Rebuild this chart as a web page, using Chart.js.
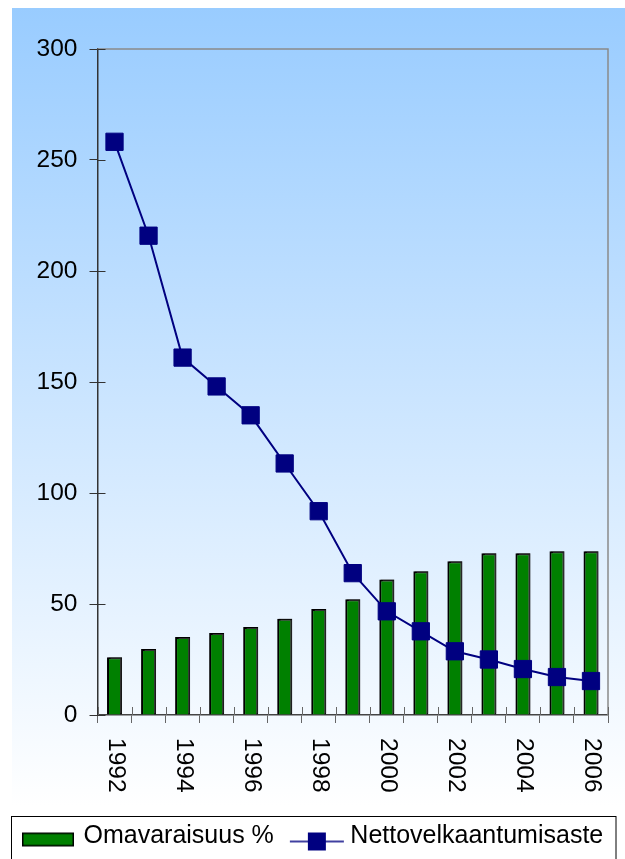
<!DOCTYPE html>
<html>
<head>
<meta charset="utf-8">
<script src="https://cdn.jsdelivr.net/npm/chart.js@4.4.1/dist/chart.umd.min.js"></script>
<style>
html,body{margin:0;padding:0;background:#ffffff;}
#wrap{width:625px;height:859px;position:relative;}
</style>
</head>
<body>
<div id="wrap"><canvas id="c"></canvas></div>
<script>
// ---- data ----
const years = ['1992','1993','1994','1995','1996','1997','1998','1999','2000','2001','2002','2003','2004','2005','2006'];
const omavaraisuus = [26.0, 29.7, 35.1, 36.9, 39.6, 43.3, 47.7, 52.1, 61.0, 64.8, 69.3, 72.9, 72.9, 73.8, 73.8];
const nettovelkaantumisaste = [258.2, 215.9, 161.0, 148.0, 135.0, 113.3, 91.8, 63.9, 46.7, 37.7, 28.7, 25.0, 20.7, 17.1, 15.3];
const yMin = 0;
const yMax = 300;
const yStep = 50;
const xLabelEvery = 2;
const seriesNames = ['Omavaraisuus %', 'Nettovelkaantumisaste'];

const FONT = "'Liberation Sans', Arial, Helvetica, sans-serif";
const GREEN = '#008000';
const NAVY = '#000080';

// legend swatches
function makeBarSwatch(){
  const c = document.createElement('canvas'); c.width = 80; c.height = 40;
  const g = c.getContext('2d');
  g.fillStyle = GREEN; g.fillRect(21, 16, 52, 14);
  g.strokeStyle = '#000'; g.lineWidth = 1.5; g.strokeRect(21.75, 16.75, 50.5, 12.5);
  return c;
}
function makeLineSwatch(){
  const c = document.createElement('canvas'); c.width = 80; c.height = 40;
  const g = c.getContext('2d');
  g.strokeStyle = NAVY; g.lineWidth = 1.5;
  g.beginPath(); g.moveTo(22, 25); g.lineTo(76, 25); g.stroke();
  g.fillStyle = NAVY; g.fillRect(40, 16, 18, 18);
  return c;
}
const barSw = makeBarSwatch();
const lineSw = makeLineSwatch();

const bgPlugin = {
  id: 'bg',
  beforeDraw(chart){
    const ctx = chart.ctx;
    ctx.save();
    ctx.fillStyle = '#ffffff';
    ctx.fillRect(0, 0, chart.width, chart.height);
    const g = ctx.createLinearGradient(0, 8, 0, 806);
    g.addColorStop(0, '#99CCFF');
    g.addColorStop(1, '#FFFFFF');
    ctx.fillStyle = g;
    ctx.fillRect(12, 8, chart.width - 12, 798);
    ctx.restore();
  },
  beforeDatasetDraw(chart, args){
    if (args.index !== 0) return;
    const ctx = chart.ctx;
    ctx.save();
    ctx.shadowColor = 'rgba(90,90,90,0.55)';
    ctx.shadowOffsetX = 1.5;
    ctx.shadowOffsetY = -1;
    ctx.shadowBlur = 0;
  },
  afterDatasetDraw(chart, args){
    if (args.index !== 0) return;
    chart.ctx.restore();
  }
};

const decoPlugin = {
  id: 'deco',
  afterDraw(chart){
    const ctx = chart.ctx;
    const a = chart.chartArea;
    const xs = chart.scales.x, ys = chart.scales.y;
    ctx.save();
    // top and right plot border
    ctx.strokeStyle = '#8a8a8a'; ctx.lineWidth = 1.5;
    ctx.beginPath();
    ctx.moveTo(a.left, a.top); ctx.lineTo(a.right, a.top); ctx.lineTo(a.right, a.bottom);
    ctx.stroke();
    // inner halves of cross tick marks (y)
    ctx.strokeStyle = '#333'; ctx.lineWidth = 1;
    ys.ticks.forEach(t => {
      const py = Math.round(ys.getPixelForValue(t.value)) + 0.5;
      ctx.beginPath(); ctx.moveTo(a.left, py); ctx.lineTo(a.left + 8, py); ctx.stroke();
    });
    // inner halves of cross tick marks (x), at category boundaries
    ctx.strokeStyle = '#666';
    const n = years.length;
    for (let i = 0; i <= n; i++){
      const px = Math.round(xs.left + i * (xs.right - xs.left) / n) + 0.5;
      ctx.beginPath(); ctx.moveTo(px, a.bottom); ctx.lineTo(px, a.bottom - 8); ctx.stroke();
    }
    // rotated x labels (reading downward)
    ctx.fillStyle = '#000';
    ctx.font = '24.5px ' + FONT;
    ctx.textAlign = 'left';
    ctx.textBaseline = 'middle';
    years.forEach((yr, i) => {
      if (i % xLabelEvery) return;
      const px = xs.getPixelForValue(i);
      ctx.save();
      ctx.translate(px + 1, xs.top + 23);
      ctx.rotate(Math.PI / 2);
      ctx.fillText(yr, 0, 0);
      ctx.restore();
    });
    // legend frame
    const lg = chart.legend;
    ctx.strokeStyle = '#000'; ctx.lineWidth = 1;
    ctx.strokeRect(lg.left + 4.5, lg.top - 3.5, 604.5, 60);
    ctx.restore();
  }
};

Chart.defaults.font.family = FONT;

new Chart(document.getElementById('c'), {
  data: {
    labels: years,
    datasets: [
      {
        type: 'bar', label: seriesNames[0], data: omavaraisuus,
        backgroundColor: GREEN, borderColor: '#000', borderWidth: 2,
        barPercentage: 0.44, categoryPercentage: 1, order: 1, yAxisID: 'y'
      },
      {
        type: 'line', label: seriesNames[1], data: nettovelkaantumisaste,
        borderColor: NAVY, borderWidth: 2, tension: 0, fill: false,
        pointStyle: 'rect', pointRadius: 12.2, pointHoverRadius: 12.2,
        pointBackgroundColor: NAVY, pointBorderColor: NAVY, pointBorderWidth: 1,
        order: 0, yAxisID: 'y'
      }
    ]
  },
  options: {
    responsive: true, maintainAspectRatio: false, animation: false,
    events: [],
    layout: { padding: { top: 49, left: 7, right: 0, bottom: 0 } },
    plugins: {
      tooltip: { enabled: false },
      title: { display: false },
      legend: {
        position: 'bottom', align: 'start',
        labels: {
          usePointStyle: true, pointStyleWidth: 60, padding: 4,
          font: { family: FONT, size: 25 }, color: '#000',
          sort: (a, b) => a.datasetIndex - b.datasetIndex,
          generateLabels: (chart) => {
            const items = Chart.defaults.plugins.legend.labels.generateLabels(chart);
            items.forEach(it => { it.pointStyle = it.datasetIndex === 0 ? barSw : lineSw; it.rotation = 0; });
            return items;
          }
        }
      }
    },
    scales: {
      x: {
        type: 'category', offset: true,
        grid: { offset: true, drawOnChartArea: false, drawTicks: true, tickLength: 8, color: '#666', lineWidth: 1 },
        border: { display: true, color: '#444', width: 1.5 },
        ticks: { display: false, autoSkip: false },
        afterFit: (s) => { s.height = 105; }
      },
      y: {
        type: 'linear', position: 'left', min: yMin, max: yMax,
        ticks: { stepSize: yStep, font: { family: FONT, size: 24.5 }, color: '#000', padding: 12 },
        grid: { drawOnChartArea: false, drawTicks: true, tickLength: 8, color: '#333' },
        border: { display: true, color: '#333', width: 1.5 },
        afterFit: (s) => { s.width = 90.5; }
      },
      yR: {
        type: 'linear', position: 'right', display: true,
        ticks: { display: false }, grid: { display: false }, border: { display: false },
        afterFit: (s) => { s.width = 17; }
      }
    }
  },
  plugins: [bgPlugin, decoPlugin]
});
</script>
</body>
</html>
